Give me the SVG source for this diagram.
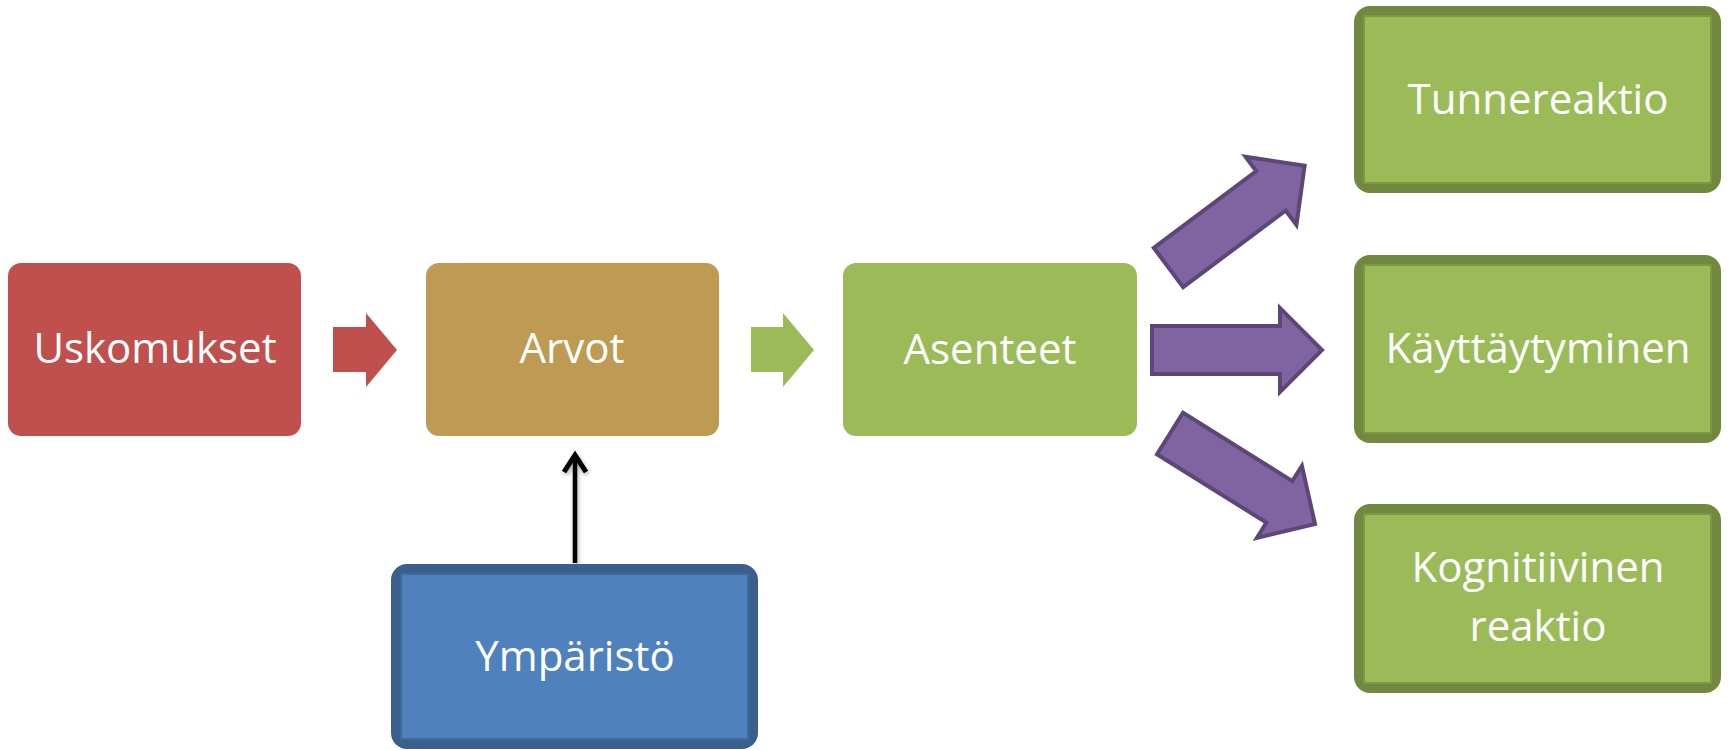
<svg xmlns="http://www.w3.org/2000/svg" width="1732" height="750" viewBox="0 0 1732 750">
<defs>
<style>
.lbl{font-family:"Open Sans","Noto Sans","Liberation Sans",sans-serif;font-size:42px;fill:#fff;text-anchor:middle}
.pa{fill:#8064A2;stroke:#5C4776;stroke-width:4;stroke-linejoin:miter}
.gout{fill:#71893F}
.gin{fill:#9BBB59;stroke:#7C9847;stroke-width:2}
</style>
<filter id="sh" x="-50%" y="-20%" width="200%" height="140%">
<feDropShadow dx="1" dy="2" stdDeviation="2" flood-color="#000" flood-opacity="0.35"/>
</filter>
</defs>
<rect width="1732" height="750" fill="#fff"/>
<g id="connectors">
<path d="M333,327 L366,327 L366,313 L397,350 L366,387 L366,372 L333,372 Z" fill="#C0504D"/>
<path d="M751,327 L783,327 L783,313 L814,350 L783,387 L783,372 L751,372 Z" fill="#9BBB59"/>
<path class="pa" d="M1152,326 L1280,326 L1280,308 L1322,350 L1280,392 L1280,374 L1152,374 Z"/>
<path class="pa" transform="translate(1168.5,267.5) rotate(-36.8)" d="M0,-24.5 L128,-24.5 L128,-42.5 L170,0 L128,42.5 L128,24.5 L0,24.5 Z"/>
<path class="pa" transform="translate(1170,433.5) rotate(32)" d="M0,-24.5 L129,-24.5 L129,-42.5 L171,0 L129,42.5 L129,24.5 L0,24.5 Z"/>
<g filter="url(#sh)" fill="none" stroke="#000" stroke-width="4.5">
<line x1="575" y1="563" x2="575" y2="455"/>
<path d="M564,472 L575,455 L586,472" stroke-width="5" stroke-linejoin="miter"/>
</g>
</g>
<g id="uskomukset">
<rect x="8" y="263" width="293" height="173" rx="13" fill="#C0504D"/>
<text class="lbl" x="155" y="363">Uskomukset</text>
</g>
<g id="arvot">
<rect x="426" y="263" width="293" height="173" rx="13" fill="#BE9A52"/>
<text class="lbl" x="572" y="363">Arvot</text>
</g>
<g id="asenteet">
<rect x="843" y="263" width="294" height="173" rx="13" fill="#9BBB59"/>
<text class="lbl" x="990" y="364">Asenteet</text>
</g>
<g id="ymparisto">
<rect x="391" y="564" width="367" height="185" rx="16" fill="#3B5F8C"/>
<rect x="401" y="574" width="347" height="165" fill="#4F81BD" stroke="#43699A" stroke-width="2"/>
<text class="lbl" x="575" y="671">Ympäristö</text>
</g>
<g id="tunnereaktio">
<rect class="gout" x="1354" y="6" width="367" height="187" rx="16"/>
<rect class="gin" x="1364" y="16" width="347" height="167"/>
<text class="lbl" x="1538" y="114">Tunnereaktio</text>
</g>
<g id="kayttaytyminen">
<rect class="gout" x="1354" y="255" width="367" height="188" rx="16"/>
<rect class="gin" x="1364" y="265" width="347" height="168"/>
<text class="lbl" x="1538" y="363">Käyttäytyminen</text>
</g>
<g id="kognitiivinen">
<rect class="gout" x="1354" y="504" width="367" height="189" rx="16"/>
<rect class="gin" x="1364" y="514" width="347" height="169"/>
<text class="lbl" x="1538" y="582">Kognitiivinen</text>
<text class="lbl" x="1538" y="641">reaktio</text>
</g>
</svg>
